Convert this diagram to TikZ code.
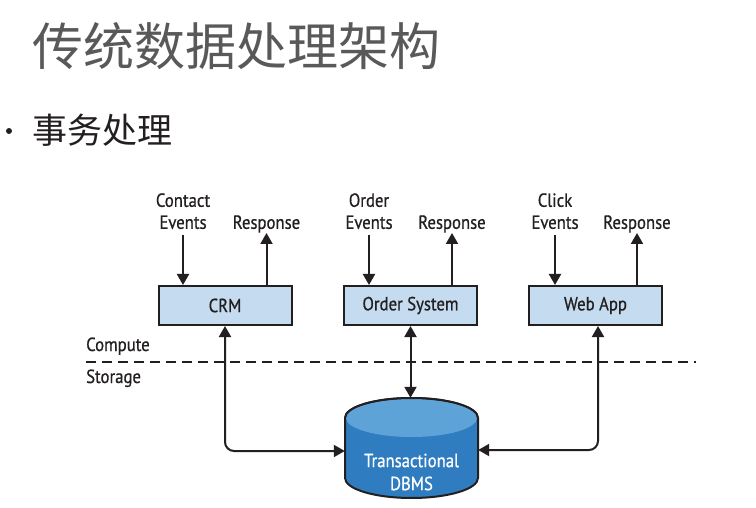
\documentclass[tikz,border=0pt]{standalone}
\usepackage{fontspec}
\setmainfont{PT Sans}
\newfontfamily\cjk{Noto Sans CJK SC}
\newfontfamily\diagfont[FakeStretch=0.88,FakeBold=0.7]{PT Sans}
\usetikzlibrary{arrows.meta,positioning}

\definecolor{boxblue}{HTML}{C5DCF0}
\definecolor{dbbody}{HTML}{2F7DC0}
\definecolor{dbtop}{HTML}{5EA3D8}
\definecolor{titlegray}{HTML}{595959}
\definecolor{ink}{HTML}{231F20}

\tikzset{
  sysbox/.style={draw=ink, line width=2pt, fill=boxblue, minimum width=133pt, minimum height=39pt, inner sep=0pt, text=ink, font=\diagfont\fontsize{19}{22}\selectfont},
  evlabel/.style={align=center, anchor=south, inner sep=0pt, text depth=0pt, text=ink, font=\diagfont\fontsize{19}{22}\selectfont},
  flow/.style={draw=ink, line width=2pt, -{Triangle[length=11pt,width=12pt]}},
  biflow/.style={draw=ink, line width=2pt, rounded corners=9pt, {Triangle[length=11pt,width=12pt]}-{Triangle[length=11pt,width=12pt]}}
}

\begin{document}
\begin{tikzpicture}[x=1pt,y=1pt]
\useasboundingbox[fill=white] (0,0) rectangle (756,-508);

% heading
\node[anchor=west, inner sep=0pt, text=titlegray, font=\cjk\fontsize{51}{51}\selectfont] (title) at (32,-46) {传统数据处理架构};
\fill[ink] (9,-131) circle (3pt);
\node[anchor=west, inner sep=0pt, text=ink, font=\cjk\fontsize{35}{35}\selectfont] (sub) at (32,-130) {事务处理};

% systems
\node[sysbox] (crm) at (225,-305.5) {CRM};
\node[sysbox] (order) at (410.5,-305.5) {Order System};
\node[sysbox] (web) at (595.5,-305.5) {Web App};

% events and responses
\node[evlabel] (crmin) at (183,-229) {Contact\\Events};
\node[evlabel] (crmout) at (266.5,-229) {Response};
\node[evlabel] (orderin) at (369,-229) {Order\\Events};
\node[evlabel] (orderout) at (452,-229) {Response};
\node[evlabel] (webin) at (555,-229) {Click\\Events};
\node[evlabel] (webout) at (637,-229) {Response};

\draw[flow] ([yshift=-6pt]crmin.south) -- (crmin.south |- crm.north);
\draw[flow] (crmout.south |- crm.north) -- ([yshift=-4pt]crmout.south);
\draw[flow] ([yshift=-6pt]orderin.south) -- (orderin.south |- order.north);
\draw[flow] (orderout.south |- order.north) -- ([yshift=-4pt]orderout.south);
\draw[flow] ([yshift=-6pt]webin.south) -- (webin.south |- web.north);
\draw[flow] (webout.south |- web.north) -- ([yshift=-4pt]webout.south);

% compute / storage split
\node[anchor=base west, inner sep=0pt, text=ink, font=\diagfont\fontsize{19}{22}\selectfont] (compute) at (86,-351) {Compute};
\node[anchor=base west, inner sep=0pt, text=ink, font=\diagfont\fontsize{19}{22}\selectfont] (storage) at (86,-383) {Storage};
\draw[ink, line width=2pt, dash pattern=on 10pt off 6pt] (86,-362) -- (696,-362);

% database
\filldraw[fill=dbbody, draw=ink, line width=2pt] (345,-418) -- (345,-478) arc (180:360:66.5 and 20) -- (478,-418) arc (0:180:66.5 and 20) -- cycle;
\fill[dbtop] (411.5,-418) ellipse (65.5 and 19);
\draw[ink, line width=2pt] (478,-418) arc (0:180:66.5 and 20);
\node[minimum width=133pt, minimum height=100pt, inner sep=0pt] (db) at (411.5,-448) {};
\node[align=center, inner sep=0pt, text=white, font=\diagfont\fontsize{19}{23}\selectfont] (dbname) at (411.5,-472) {Transactional\\DBMS};

\draw[biflow] (crm.south) |- ([yshift=-3pt]db.west);
\draw[biflow] (order.south) -- (order.south |- db.north);
\draw[biflow] ([xshift=2.5pt]web.south) |- ([yshift=-2pt]db.east);
\end{tikzpicture}
\end{document}
